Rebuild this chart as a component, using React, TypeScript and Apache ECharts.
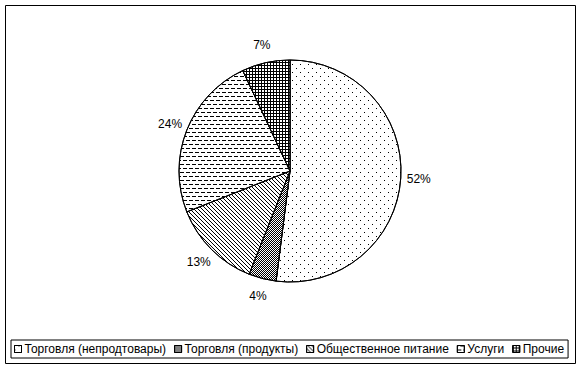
import React, { useEffect, useRef } from "react";
import * as echarts from "echarts";

const categories = [
  "Торговля (непродтовары)",
  "Торговля (продукты)",
  "Общественное питание",
  "Услуги",
  "Прочие",
];
const shares = [52, 4, 13, 24, 7];

// Fill patterns (style only)
const decals: any[] = [
  // sparse staggered dots
  { dashArrayX: [[1, 7], [0, 4, 1, 3]], dashArrayY: [1, 3] },
  // 1px checkerboard
  { dashArrayX: [[1, 1], [0, 1, 1, 0]], dashArrayY: [1, 0] },
  // diagonal "\" lines
  { dashArrayX: [[1, 3], [0, 1, 1, 2], [0, 2, 1, 1], [0, 3, 1, 0]], dashArrayY: [1, 0] },
  // horizontal dashes
  { dashArrayX: [[4, 2], [1, 2, 3, 0]], dashArrayY: [1, 3] },
  // grid
  { dashArrayX: [[3, 0], [1, 2], [1, 2]], dashArrayY: [1, 0] },
];

const FONT = "'Liberation Sans', Arial, sans-serif";

export default function App() {
  const ref = useRef<HTMLDivElement>(null);
  useEffect(() => {
    if (!ref.current) return;
    const chart = echarts.init(ref.current, undefined, { renderer: "svg" });
    const data = categories.map((name, i) => ({
      name,
      value: shares[i],
      itemStyle: {
        color: "#ffffff",
        borderColor: "#000000",
        borderWidth: 1,
        decal: {
          symbol: "rect",
          symbolSize: 1,
          symbolKeepAspect: false,
          color: "#000000",
          backgroundColor: "#ffffff",
          ...decals[i],
        },
      },
    }));
    chart.setOption({
      animation: false,
      backgroundColor: "#ffffff",
      textStyle: { fontFamily: FONT },
      graphic: [
        {
          type: "rect",
          shape: { x: 5.5, y: 5.5, width: 570, height: 358 },
          style: { fill: "none", stroke: "#000000", lineWidth: 1 },
          silent: true,
          z: 0,
        },
      ],
      legend: {
        orient: "horizontal",
        left: 11,
        top: 340,
        icon: "rect",
        itemWidth: 7,
        itemHeight: 7,
        itemGap: 8,
        padding: [3, 4, 3, 3],
        borderColor: "#000000",
        borderWidth: 1,
        itemStyle: { borderColor: "#000000", borderWidth: 1 },
        textStyle: { fontFamily: FONT, fontSize: 12, color: "#000000", padding: [0, 0, 0, -2] },
        data: categories,
      },
      series: [
        {
          type: "pie",
          center: [290, 171],
          radius: 111,
          startAngle: 90,
          clockwise: true,
          avoidLabelOverlap: false,
          data,
          label: {
            show: true,
            position: "outside",
            formatter: "{c}%",
            fontFamily: FONT,
            fontSize: 12,
            color: "#000000",
          },
          labelLine: {
            show: true,
            length: 10,
            length2: 0,
            lineStyle: { opacity: 0, width: 0 },
          },
          labelLayout: (params: any) => {
            const pts = params.labelLinePoints;
            if (!pts || pts.length < 2) return {};
            const dx = pts[1][0] - pts[0][0];
            const dy = pts[1][1] - pts[0][1];
            const len = Math.sqrt(dx * dx + dy * dy) || 1;
            return {
              x: pts[0][0] + (dx / len) * 18,
              y: pts[0][1] + (dy / len) * 18,
              align: "center",
              verticalAlign: "middle",
            };
          },
          emphasis: { disabled: true },
        },
      ],
    });
    return () => chart.dispose();
  }, []);
  return (
    <div
      ref={ref}
      style={{ position: "fixed", left: 0, top: 0, width: 582, height: 370 }}
    />
  );
}
